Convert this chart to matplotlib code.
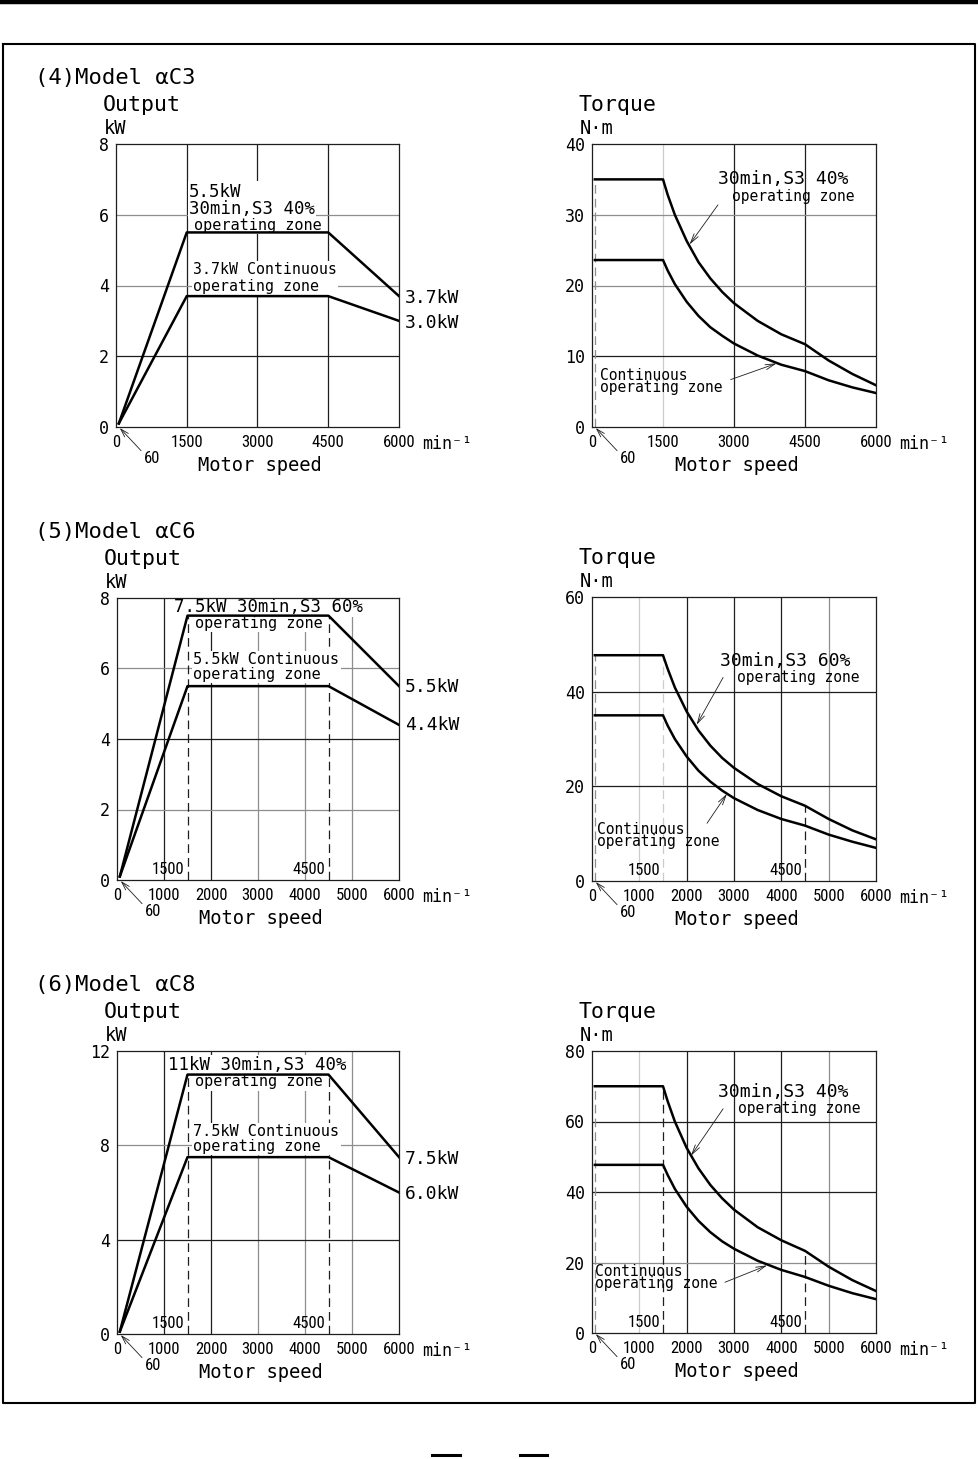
import matplotlib.pyplot as plt

plt.rcParams['font.family'] = ['DejaVu Sans Mono', 'DejaVu Sans']
NUM_FONT = ['Roboto Condensed', 'DejaVu Sans Mono']
NUM_SIZE = 12

# speeds, min^-1
min_speed = 60
base_speed = 1500
knee_speed = 4500
out_speed = [60, 1500, 4500, 6000]
trq_speed = [60, 1500, 1600, 1750, 2000, 2250, 2500, 2750, 3000, 3500, 4000, 4500, 5000, 5500, 6000]

# output, kW
c3_out_s3 = [0.1, 5.5, 5.5, 3.7]
c3_out_cont = [0.1, 3.7, 3.7, 3.0]
c6_out_s3 = [0.1, 7.5, 7.5, 5.5]
c6_out_cont = [0.1, 5.5, 5.5, 4.4]
c8_out_s3 = [0.1, 11.0, 11.0, 7.5]
c8_out_cont = [0.1, 7.5, 7.5, 6.0]

# torque, N.m
c3_trq_s3 = [35.0, 35.0, 32.8, 30.0, 26.3, 23.3, 21.0, 19.1, 17.5, 15.0, 13.1, 11.7, 9.4, 7.5, 5.9]
c3_trq_cont = [23.6, 23.6, 22.1, 20.2, 17.7, 15.7, 14.1, 12.9, 11.8, 10.1, 8.8, 7.9, 6.6, 5.6, 4.8]
c6_trq_s3 = [47.7, 47.7, 44.8, 40.9, 35.8, 31.8, 28.6, 26.0, 23.9, 20.5, 17.9, 15.9, 13.1, 10.7, 8.8]
c6_trq_cont = [35.0, 35.0, 32.8, 30.0, 26.3, 23.3, 21.0, 19.1, 17.5, 15.0, 13.1, 11.7, 9.8, 8.3, 7.0]
c8_trq_s3 = [70.0, 70.0, 65.7, 60.0, 52.5, 46.7, 42.0, 38.2, 35.0, 30.0, 26.3, 23.3, 18.8, 15.0, 11.9]
c8_trq_cont = [47.7, 47.7, 44.8, 40.9, 35.8, 31.8, 28.6, 26.0, 23.9, 20.5, 17.9, 15.9, 13.4, 11.3, 9.6]

ticks_wide = [0, 1500, 3000, 4500, 6000]
ticks_fine = [0, 1000, 2000, 3000, 4000, 5000, 6000]

DARK = '#1e1e1e'
MID = '#8e8e8e'
LIGHT = '#cccccc'

W, H = 979, 1459
fig = plt.figure(figsize=(W / 100, H / 100), dpi=100)

# page frame
bg = fig.add_axes([0, 0, 1, 1])
bg.set_xlim(0, W)
bg.set_ylim(H, 0)
bg.axis('off')
bg.plot([0, W], [2, 2], color='black', lw=3.2)
bg.plot([3, 975, 975, 3, 3], [44, 44, 1403, 1403, 44], color='black', lw=1.5)
bg.plot([432, 460], [1455, 1455], color='black', lw=2.2)
bg.plot([520, 547], [1455, 1455], color='black', lw=2.2)


def px_box(x, y, w, h):
    return [x / W, 1 - (y + h) / H, w / W, h / H]


def setup(ax, xticks, yticks, vgrid, hgrid, ylabel, unit):
    ax.set_xlim(0, 6000)
    ax.set_ylim(yticks[0], yticks[-1])
    ax.set_xticks(xticks)
    ax.set_yticks(yticks)
    ax.set_xticklabels([str(t) for t in xticks], family=NUM_FONT, fontsize=NUM_SIZE)
    ax.set_yticklabels([str(t) for t in yticks], fontsize=12)
    ax.tick_params(length=0)
    ax.tick_params(axis='x', pad=6)
    ax.tick_params(axis='y', pad=5)
    for x, c in vgrid:
        ax.axvline(x, color=c, lw=0.9, zorder=0)
    for y, c in hgrid:
        ax.axhline(y, color=c, lw=0.9, zorder=0)
    for s in ax.spines.values():
        s.set_linewidth(0.9)
        s.set_color(DARK)
    ax.annotate('min⁻¹', xy=(1, 0), xycoords='axes fraction', xytext=(17, -6),
                textcoords='offset points', ha='left', va='top', fontsize=12)
    ax.annotate('Motor speed', xy=(0.5, 0), xycoords='axes fraction', xytext=(2, -21),
                textcoords='offset points', ha='center', va='top', fontsize=13.5)
    ax.annotate('60', xy=(min_speed, yticks[0]), xytext=(18, -17), textcoords='offset points',
                ha='left', va='top', family=NUM_FONT, fontsize=NUM_SIZE,
                arrowprops=dict(arrowstyle='->, head_length=0.5, head_width=0.15', lw=0.6,
                                color=DARK, relpos=(0, 0.8), shrinkA=0, shrinkB=1))
    ax.annotate(ylabel, xy=(0, 1), xycoords='axes fraction', xytext=(-9.5, 35),
                textcoords='offset points', ha='left', va='top', fontsize=15.5)
    ax.annotate(unit, xy=(0, 1), xycoords='axes fraction', xytext=(-8.5, 18),
                textcoords='offset points', ha='left', va='top', fontsize=13.5)


def label(ax, x, y, s, size, box=True, ls=1.0):
    # y is the baseline of the last line
    kw = dict(fontsize=size, ha='left', va='baseline', zorder=2, linespacing=ls)
    if box:
        kw['bbox'] = dict(fc='white', ec='none', pad=1.0)
    ax.text(x, y, s, **kw)


def arrow(ax, start, tip):
    ax.annotate('', xy=tip, xytext=start,
                arrowprops=dict(arrowstyle='->, head_length=0.7, head_width=0.18', lw=0.6,
                                color=DARK, shrinkA=0, shrinkB=0))


def corner_labels(ax):
    for sp in (base_speed, knee_speed):
        ax.annotate(str(sp), xy=(sp, 0), xytext=(-2, 2), textcoords='offset points',
                    ha='right', va='bottom', family=NUM_FONT, fontsize=NUM_SIZE)


def dashed(ax, x, top, color):
    ax.vlines(x, 0, top, colors=color, lw=0.9, linestyles=(0, (7, 4)), zorder=1)


row_y = [144, 598, 1051]
left_x, right_x = 116, 592
size_w, size_h = 283, 283
titles = ['(4)Model αC3', '(5)Model αC6', '(6)Model αC8']

# ---------- (4) alpha C3 ----------
ax = fig.add_axes(px_box(left_x, row_y[0], size_w, size_h))
setup(ax, ticks_wide, [0, 2, 4, 6, 8],
      [(1500, DARK), (3000, DARK), (4500, DARK)],
      [(2, DARK), (4, MID), (6, MID)], 'Output', 'kW')
ax.plot(out_speed, c3_out_s3, color='black', lw=1.8, zorder=3)
ax.plot(out_speed, c3_out_cont, color='black', lw=1.8, zorder=3)
label(ax, 1550, 6.02, '5.5kW\n30min,S3 40%', 12.5, ls=0.95)
label(ax, 1650, 5.57, 'operating zone', 11)
label(ax, 1630, 3.84, '3.7kW Continuous\noperating zone', 10.75, ls=1.15)
label(ax, 6130, 3.5, '3.7kW', 13, box=False)
label(ax, 6130, 2.8, '3.0kW', 13, box=False)
ax.annotate(titles[0], xy=(0, 1), xycoords='axes fraction', xytext=(-58.5, 55),
            textcoords='offset points', ha='left', va='top', fontsize=16)

ax = fig.add_axes(px_box(right_x, row_y[0], size_w + 1, size_h))
setup(ax, ticks_wide, [0, 10, 20, 30, 40],
      [(1500, LIGHT), (3000, DARK), (4500, DARK)],
      [(10, DARK), (20, MID), (30, MID)], 'Torque', 'N·m')
dashed(ax, min_speed, c3_trq_s3[0], MID)
ax.plot(trq_speed, c3_trq_s3, color='black', lw=1.8, zorder=3)
ax.plot(trq_speed, c3_trq_cont, color='black', lw=1.8, zorder=3)
label(ax, 2660, 34.4, '30min,S3 40%', 13, box=False)
label(ax, 2960, 32.0, 'operating zone', 10.5, box=False)
arrow(ax, (2662, 31.4), (2060, 25.8))
label(ax, 170, 4.95, 'Continuous\noperating zone', 10.5, box=False, ls=0.75)
arrow(ax, (2930, 6.7), (3900, 9.0))

# ---------- (5) alpha C6 ----------
ax = fig.add_axes(px_box(left_x + 1, row_y[1], size_w - 1, size_h - 1))
setup(ax, ticks_fine, [0, 2, 4, 6, 8],
      [(1000, DARK), (2000, DARK), (3000, MID), (4000, MID), (5000, MID)],
      [(2, MID), (4, DARK), (6, MID)], 'Output', 'kW')
dashed(ax, base_speed, c6_out_s3[1], DARK)
dashed(ax, knee_speed, c6_out_s3[2], DARK)
ax.plot(out_speed, c6_out_s3, color='black', lw=1.8, zorder=3)
ax.plot(out_speed, c6_out_cont, color='black', lw=1.8, zorder=3)
label(ax, 1210, 7.6, '7.5kW 30min,S3 60%', 12.5)
label(ax, 1660, 7.15, 'operating zone', 11)
label(ax, 1620, 5.7, '5.5kW Continuous\noperating zone', 11, ls=0.98)
label(ax, 6130, 5.33, '5.5kW', 13, box=False)
label(ax, 6130, 4.26, '4.4kW', 13, box=False)
corner_labels(ax)
ax.annotate(titles[1], xy=(0, 1), xycoords='axes fraction', xytext=(-59, 55),
            textcoords='offset points', ha='left', va='top', fontsize=16)

ax = fig.add_axes(px_box(right_x, row_y[1] - 1, size_w + 1, size_h + 1))
setup(ax, ticks_fine, [0, 20, 40, 60],
      [(1000, LIGHT), (2000, DARK), (3000, DARK), (4000, DARK), (5000, MID)],
      [(20, DARK), (40, DARK)], 'Torque', 'N·m')
dashed(ax, min_speed, c6_trq_s3[0], MID)
dashed(ax, base_speed, c6_trq_s3[1], LIGHT)
dashed(ax, knee_speed, c6_trq_s3[11], DARK)
ax.plot(trq_speed, c6_trq_s3, color='black', lw=1.8, zorder=3)
ax.plot(trq_speed, c6_trq_cont, color='black', lw=1.8, zorder=3)
label(ax, 2700, 45.4, '30min,S3 60%', 13, box=False)
label(ax, 3060, 42.0, 'operating zone', 10.5, box=False)
arrow(ax, (2770, 43.0), (2210, 33.0))
label(ax, 110, 7.4, 'Continuous\noperating zone', 10.5, box=False, ls=0.75)
arrow(ax, (2430, 12.2), (2850, 18.4))
corner_labels(ax)

# ---------- (6) alpha C8 ----------
ax = fig.add_axes(px_box(left_x + 1, row_y[2], size_w - 1, size_h))
setup(ax, ticks_fine, [0, 4, 8, 12],
      [(1000, DARK), (2000, DARK), (3000, MID), (4000, MID), (5000, MID)],
      [(4, DARK), (8, MID)], 'Output', 'kW')
dashed(ax, base_speed, c8_out_s3[1], DARK)
dashed(ax, knee_speed, c8_out_s3[2], DARK)
ax.plot(out_speed, c8_out_s3, color='black', lw=1.8, zorder=3)
ax.plot(out_speed, c8_out_cont, color='black', lw=1.8, zorder=3)
label(ax, 1085, 11.19, '11kW 30min,S3 40%', 12.5)
label(ax, 1660, 10.5, 'operating zone', 11)
label(ax, 1620, 7.76, '7.5kW Continuous\noperating zone', 11, ls=0.98)
label(ax, 6130, 7.2, '7.5kW', 13, box=False)
label(ax, 6130, 5.72, '6.0kW', 13, box=False)
corner_labels(ax)
ax.annotate(titles[2], xy=(0, 1), xycoords='axes fraction', xytext=(-59, 55),
            textcoords='offset points', ha='left', va='top', fontsize=16)

ax = fig.add_axes(px_box(right_x, row_y[2], size_w + 1, size_h - 1))
setup(ax, ticks_fine, [0, 20, 40, 60, 80],
      [(1000, LIGHT), (2000, DARK), (3000, DARK), (4000, DARK), (5000, MID)],
      [(20, MID), (40, DARK), (60, DARK)], 'Torque', 'N·m')
dashed(ax, min_speed, c8_trq_s3[0], MID)
dashed(ax, base_speed, c8_trq_s3[1], DARK)
dashed(ax, knee_speed, c8_trq_s3[11], DARK)
ax.plot(trq_speed, c8_trq_s3, color='black', lw=1.8, zorder=3)
ax.plot(trq_speed, c8_trq_cont, color='black', lw=1.8, zorder=3)
label(ax, 2660, 67.0, '30min,S3 40%', 13, box=False)
label(ax, 3080, 62.4, 'operating zone', 10.5, box=False)
arrow(ax, (2770, 63.6), (2090, 50.3))
label(ax, 65, 12.8, 'Continuous\noperating zone', 10.5, box=False, ls=0.75)
arrow(ax, (2810, 14.4), (3700, 19.2))
corner_labels(ax)

fig.savefig('out.png', dpi=100, facecolor='white')
